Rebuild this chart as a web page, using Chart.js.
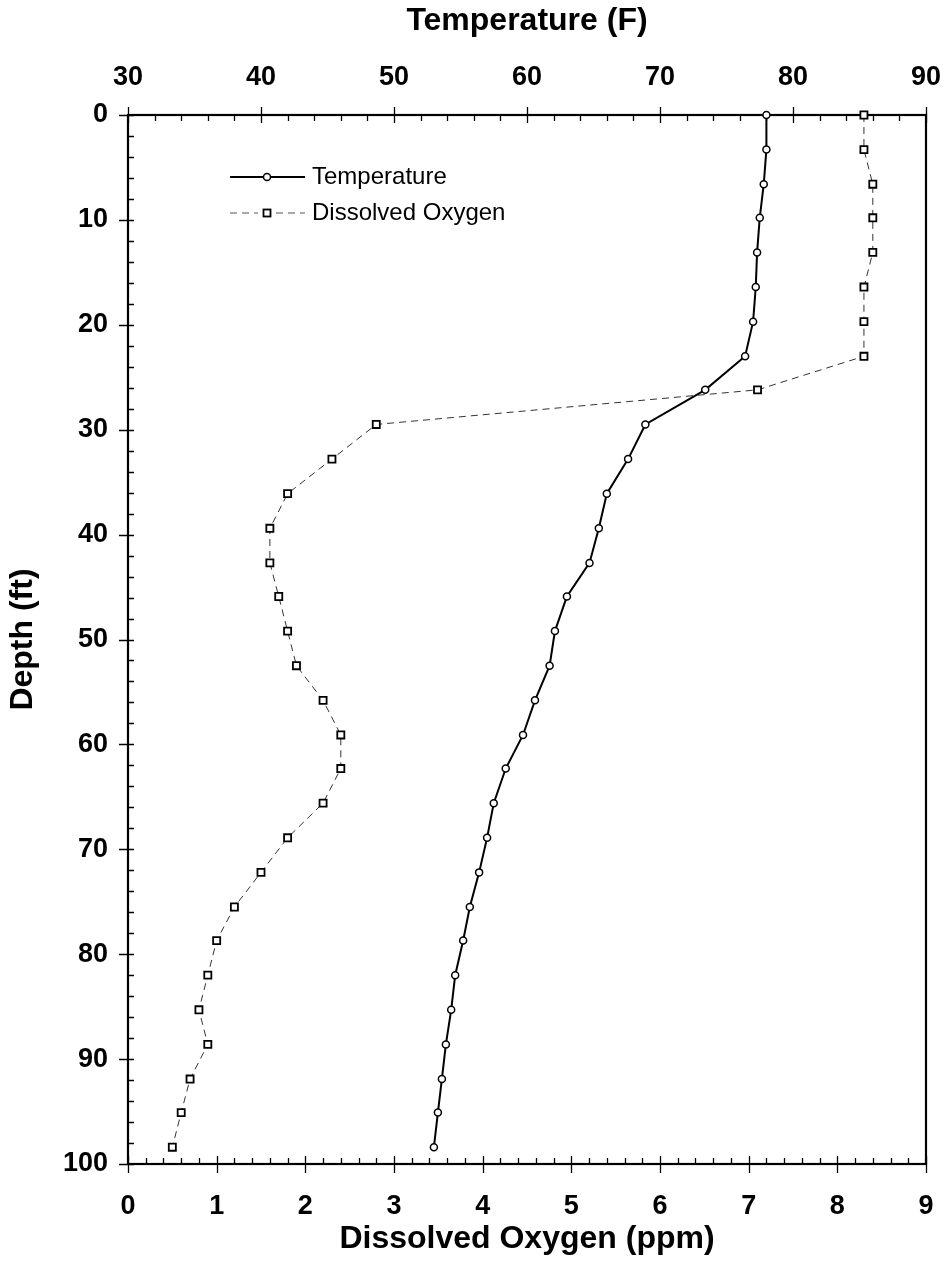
<!DOCTYPE html>
<html>
<head>
<meta charset="utf-8">
<script src="https://cdn.jsdelivr.net/npm/chart.js@4/dist/chart.umd.min.js"></script>
<style>
  body { margin: 0; background: #fff; }
  #wrap { width: 947px; height: 1281px; }
</style>
</head>
<body>
<div id="wrap"><canvas id="chart" width="947" height="1281"></canvas></div>
<script>
//Depth of every reading (ft), one reading per metre
const depthFt = [0, 3.3, 6.6, 9.8, 13.1, 16.4, 19.7, 23.0, 26.2, 29.5, 32.8, 36.1, 39.4, 42.7, 45.9, 49.2,
    52.5, 55.8, 59.1, 62.3, 65.6, 68.9, 72.2, 75.5, 78.7, 82.0, 85.3, 88.6, 91.9, 95.1, 98.4];

//Temperature readings (F)
const tempF = [78.0, 78.0, 77.8, 77.5, 77.3, 77.2, 77.0, 76.4, 73.4, 68.9, 67.6, 66.0, 65.4, 64.7, 63.0, 62.1,
    61.7, 60.6, 59.7, 58.4, 57.5, 57.0, 56.4, 55.7, 55.2, 54.6, 54.3, 53.9, 53.6, 53.3, 53.0];

//Dissolved oxygen readings (ppm)
const doPpm = [8.3, 8.3, 8.4, 8.4, 8.4, 8.3, 8.3, 8.3, 7.1, 2.8, 2.3, 1.8, 1.6, 1.6, 1.7, 1.8,
    1.9, 2.2, 2.4, 2.4, 2.2, 1.8, 1.5, 1.2, 1.0, 0.9, 0.8, 0.9, 0.7, 0.6, 0.5];

//Axis ranges and labels
const depthRange = [0, 100];
const tempRange = [30, 90];
const doRange = [0, 9];
const seriesNames = ['Temperature', 'Dissolved Oxygen'];

Chart.defaults.font.family = '"Liberation Sans", Arial, sans-serif';
Chart.defaults.color = '#000';

const tickFont = { size: 27, weight: 'bold' };
const titleFont = { size: 32, weight: 'bold' };

//Frame, major and minor ticks (drawn under the markers)
const frameTicks = {
    id: 'frameTicks',
    beforeDatasetsDraw(chart) {
        const c = chart.ctx;
        const a = chart.chartArea;
        const s = chart.scales;
        c.save();
        c.strokeStyle = '#000';
        c.lineWidth = 1.3;
        c.beginPath();
        //depth axis: every 2 ft, major every 10
        for (let v = depthRange[0]; v <= depthRange[1]; v += 2) {
            const y = Math.round(s.y.getPixelForValue(v)) + 0.5;
            if (v % 10 === 0) { c.moveTo(a.left - 9, y); c.lineTo(a.left + 6, y); }
            else { c.moveTo(a.left, y); c.lineTo(a.left + 6, y); }
        }
        //oxygen axis: every 0.2 ppm, major every 1
        for (let i = 0; i <= 45; i++) {
            const x = Math.round(s.x.getPixelForValue(i * 0.2)) + 0.5;
            if (i % 5 === 0) { c.moveTo(x, a.bottom + 9); c.lineTo(x, a.bottom - 8); }
            else { c.moveTo(x, a.bottom); c.lineTo(x, a.bottom - 6); }
        }
        //temperature axis: every 2 F, major every 10
        for (let v = tempRange[0]; v <= tempRange[1]; v += 2) {
            const x = Math.round(s.xt.getPixelForValue(v)) + 0.5;
            if ((v - tempRange[0]) % 10 === 0) { c.moveTo(x, a.top - 8); c.lineTo(x, a.top + 8); }
            else { c.moveTo(x, a.top); c.lineTo(x, a.top + 6); }
        }
        c.stroke();

        c.lineWidth = 2.2;
        c.strokeRect(a.left, a.top, a.right - a.left, a.bottom - a.top);
        c.restore();
    }
};

//Legend inside the plot, top left
const boxLegend = {
    id: 'boxLegend',
    afterDraw(chart) {
        const c = chart.ctx;
        c.save();
        c.font = '24px "Liberation Sans", Arial, sans-serif';
        c.textBaseline = 'middle';
        c.fillStyle = '#000';

        //Temperature sample
        c.strokeStyle = '#000';
        c.lineWidth = 2;
        c.beginPath();
        c.moveTo(230, 177); c.lineTo(305, 177);
        c.stroke();
        c.fillStyle = '#fff';
        c.lineWidth = 1.5;
        c.beginPath();
        c.arc(267, 177, 3.5, 0, Math.PI * 2);
        c.fill(); c.stroke();
        c.fillStyle = '#000';
        c.fillText(seriesNames[0], 312, 177);

        //Dissolved oxygen sample
        c.strokeStyle = '#555';
        c.lineWidth = 1;
        c.setLineDash([7, 5]);
        c.beginPath();
        c.moveTo(230, 213); c.lineTo(258, 213);
        c.moveTo(276, 213); c.lineTo(305, 213);
        c.stroke();
        c.setLineDash([]);
        c.strokeStyle = '#000';
        c.lineWidth = 1.8;
        c.fillStyle = '#fff';
        c.fillRect(263.5, 209.5, 7, 7);
        c.strokeRect(263.5, 209.5, 7, 7);
        c.fillStyle = '#000';
        c.fillText(seriesNames[1], 312, 213);
        c.restore();
    }
};

const tempPoints = tempF.map((t, i) => ({ x: t, y: depthFt[i] }));
const doPoints = doPpm.map((d, i) => ({ x: d, y: depthFt[i] }));

let data = {
    datasets: [{
        label: seriesNames[0],
        data: tempPoints,
        xAxisID: 'xt',
        yAxisID: 'y',
        showLine: true,
        borderColor: '#000',
        borderWidth: 2,
        pointStyle: 'circle',
        pointRadius: 3.5,
        pointBorderWidth: 1.5,
        pointBackgroundColor: '#fff',
        pointBorderColor: '#000',
        clip: false,
        order: 1
    }, {
        label: seriesNames[1],
        data: doPoints,
        xAxisID: 'x',
        yAxisID: 'y',
        showLine: true,
        borderColor: '#333',
        borderWidth: 1,
        borderDash: [7, 5],
        pointStyle: 'rect',
        pointRadius: 5,
        pointBorderWidth: 1.8,
        pointBackgroundColor: '#fff',
        pointBorderColor: '#000',
        clip: false,
        order: 2
    }]
};

//Horizontal axes: keep the plot edges fixed, ignore label overhang
function fitX(h) {
    return function (scale) {
        scale.height = h;
        scale.paddingLeft = 0;
        scale.paddingRight = 0;
    };
}

let config = {
    type: 'scatter',
    data: data,
    options: {
        responsive: false,
        animation: false,
        layout: { padding: { right: 21 } },
        plugins: {
            legend: { display: false },
            tooltip: { enabled: false }
        },
        scales: {
            y: {
                type: 'linear',
                position: 'left',
                reverse: true,
                min: depthRange[0],
                max: depthRange[1],
                grid: { display: false, drawTicks: false },
                border: { display: false },
                ticks: { stepSize: 10, font: tickFont, padding: 20 },
                title: { display: true, text: 'Depth (ft)', font: titleFont, padding: { top: 4, bottom: 0 } },
                afterFit(scale) {
                    scale.width = 128;
                    scale.paddingTop = 0;
                    scale.paddingBottom = 0;
                }
            },
            x: {
                type: 'linear',
                position: 'bottom',
                min: doRange[0],
                max: doRange[1],
                grid: { display: false, drawTicks: false },
                border: { display: false },
                ticks: { stepSize: 1, font: tickFont, padding: 26, maxRotation: 0 },
                title: { display: true, text: 'Dissolved Oxygen (ppm)', font: titleFont, padding: { top: 0, bottom: 23 } },
                afterFit: fitX(117)
            },
            xt: {
                type: 'linear',
                position: 'top',
                min: tempRange[0],
                max: tempRange[1],
                grid: { display: false, drawTicks: false },
                border: { display: false },
                ticks: { stepSize: 10, font: tickFont, padding: 21, maxRotation: 0 },
                title: { display: true, text: 'Temperature (F)', font: titleFont, padding: { top: 2, bottom: 0 } },
                afterFit: fitX(115)
            }
        }
    },
    plugins: [frameTicks, boxLegend]
};

const myChart = new Chart(document.getElementById('chart').getContext('2d'), config);
</script>
</body>
</html>
